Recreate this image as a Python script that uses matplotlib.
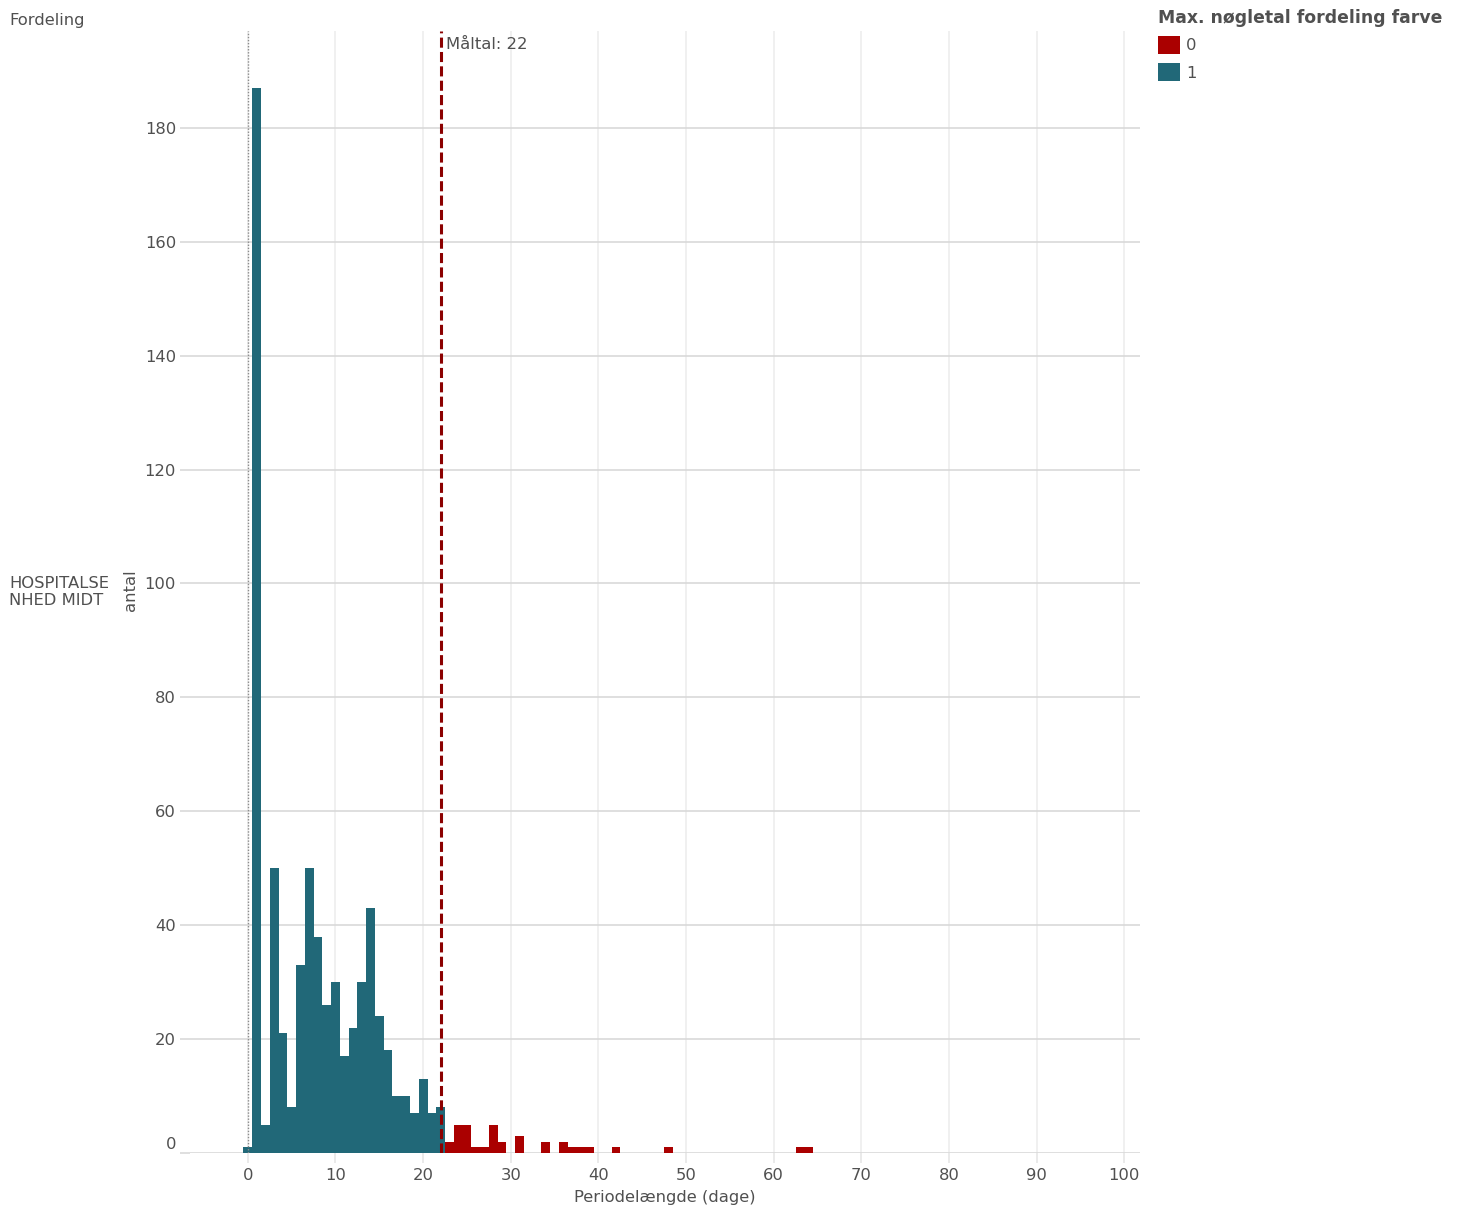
import matplotlib
matplotlib.use('Agg')
import matplotlib.pyplot as plt
from matplotlib.patches import Patch
from matplotlib.transforms import ScaledTranslation

# periodelaengde (dage) og antal
days = [0, 1, 2, 3, 4, 5, 6, 7, 8, 9, 10, 11, 12, 13, 14, 15, 16, 17, 18, 19, 20, 21, 22,
        23, 24, 25, 26, 27, 28, 29, 31, 34, 36, 37, 38, 39, 42, 48, 63, 64]
counts = [1, 187, 5, 50, 21, 8, 33, 50, 38, 26, 30, 17, 22, 30, 43, 24, 18, 10, 10, 7, 13, 7, 8,
          2, 5, 5, 1, 1, 5, 2, 3, 2, 2, 1, 1, 1, 1, 1, 1, 1]
target = 22
group_labels = ['0', '1']
group_colors = ['#aa0000', '#216878']

TXT = '#505050'
FS = 11.8
plt.rcParams['font.family'] = ['DejaVu Sans']
plt.rcParams['font.size'] = FS

fig = plt.figure(figsize=(14.6, 12.14), dpi=100)
ax = fig.add_axes([190/1460, 1 - 1153/1214, 950/1460, 1122/1214])

cols = [group_colors[1] if d <= target else group_colors[0] for d in days]
ax.bar(days, counts, width=1.0, color=cols, linewidth=0, zorder=3)

ax.set_xlim(-6.6, 101.8)
ax.set_ylim(0, 197)
ax.set_xticks(range(0, 101, 10))
ax.set_yticks(range(0, 181, 20))
for s in ax.spines.values():
    s.set_visible(False)

ax.grid(axis='y', color='#d6d6d6', linewidth=1.1, zorder=0)
ax.grid(axis='x', color='#ececec', linewidth=1.1, zorder=0)
ax.tick_params(axis='x', length=7, width=1.1, color='#e4e4e4', labelcolor=TXT, labelsize=FS, pad=4)
ax.tick_params(axis='y', length=7, width=1.1, color='#d6d6d6', labelcolor=TXT, labelsize=FS, pad=3)

# 0-label sidder lidt over nullinjen
lab0 = ax.get_yticklabels()[0]
lab0.set_transform(lab0.get_transform() + ScaledTranslation(0, 7/72, fig.dpi_scale_trans))

ax.axvline(0, color='#8c8c8c', linestyle=(0, (1, 1.2)), linewidth=1, zorder=4)
ax.axvline(target, color='#8b0000', linestyle=(0, (3.3, 1.4)), linewidth=2.2, zorder=5)
ax.annotate('Måltal: %d' % target, xy=(target, 1), xycoords=('data', 'axes fraction'),
            xytext=(3.5, -4), textcoords='offset points', ha='left', va='top',
            color=TXT, fontsize=FS)

ax.set_xlabel('Periodelængde (dage)', color=TXT, fontsize=FS, labelpad=5)

fig.text(9/1460, 1 - 21/1214, 'Fordeling', color=TXT, fontsize=FS, va='center', ha='left')
fig.text(9/1460, 1 - 592/1214, 'HOSPITALSE\nNHED MIDT', color=TXT, fontsize=FS,
         va='center', ha='left', linespacing=1.15)
fig.text(131/1460, 1 - 590/1214, 'antal', color=TXT, fontsize=FS, rotation=90,
         va='center', ha='center')

handles = [Patch(facecolor=group_colors[0]), Patch(facecolor=group_colors[1])]
leg = fig.legend(handles, group_labels, title='Max. nøgletal fordeling farve',
                 loc='upper left', bbox_to_anchor=(1151/1460, 1 - 2/1214),
                 frameon=False, fontsize=FS, handlelength=1.35, handleheight=1.35,
                 handletextpad=0.4, labelspacing=0.55, borderaxespad=0,
                 title_fontproperties={'weight': 'bold', 'size': 12.4})
leg.get_title().set_color(TXT)
leg._legend_box.align = 'left'
for t in leg.get_texts():
    t.set_color(TXT)

fig.savefig('out.png', dpi=100)
